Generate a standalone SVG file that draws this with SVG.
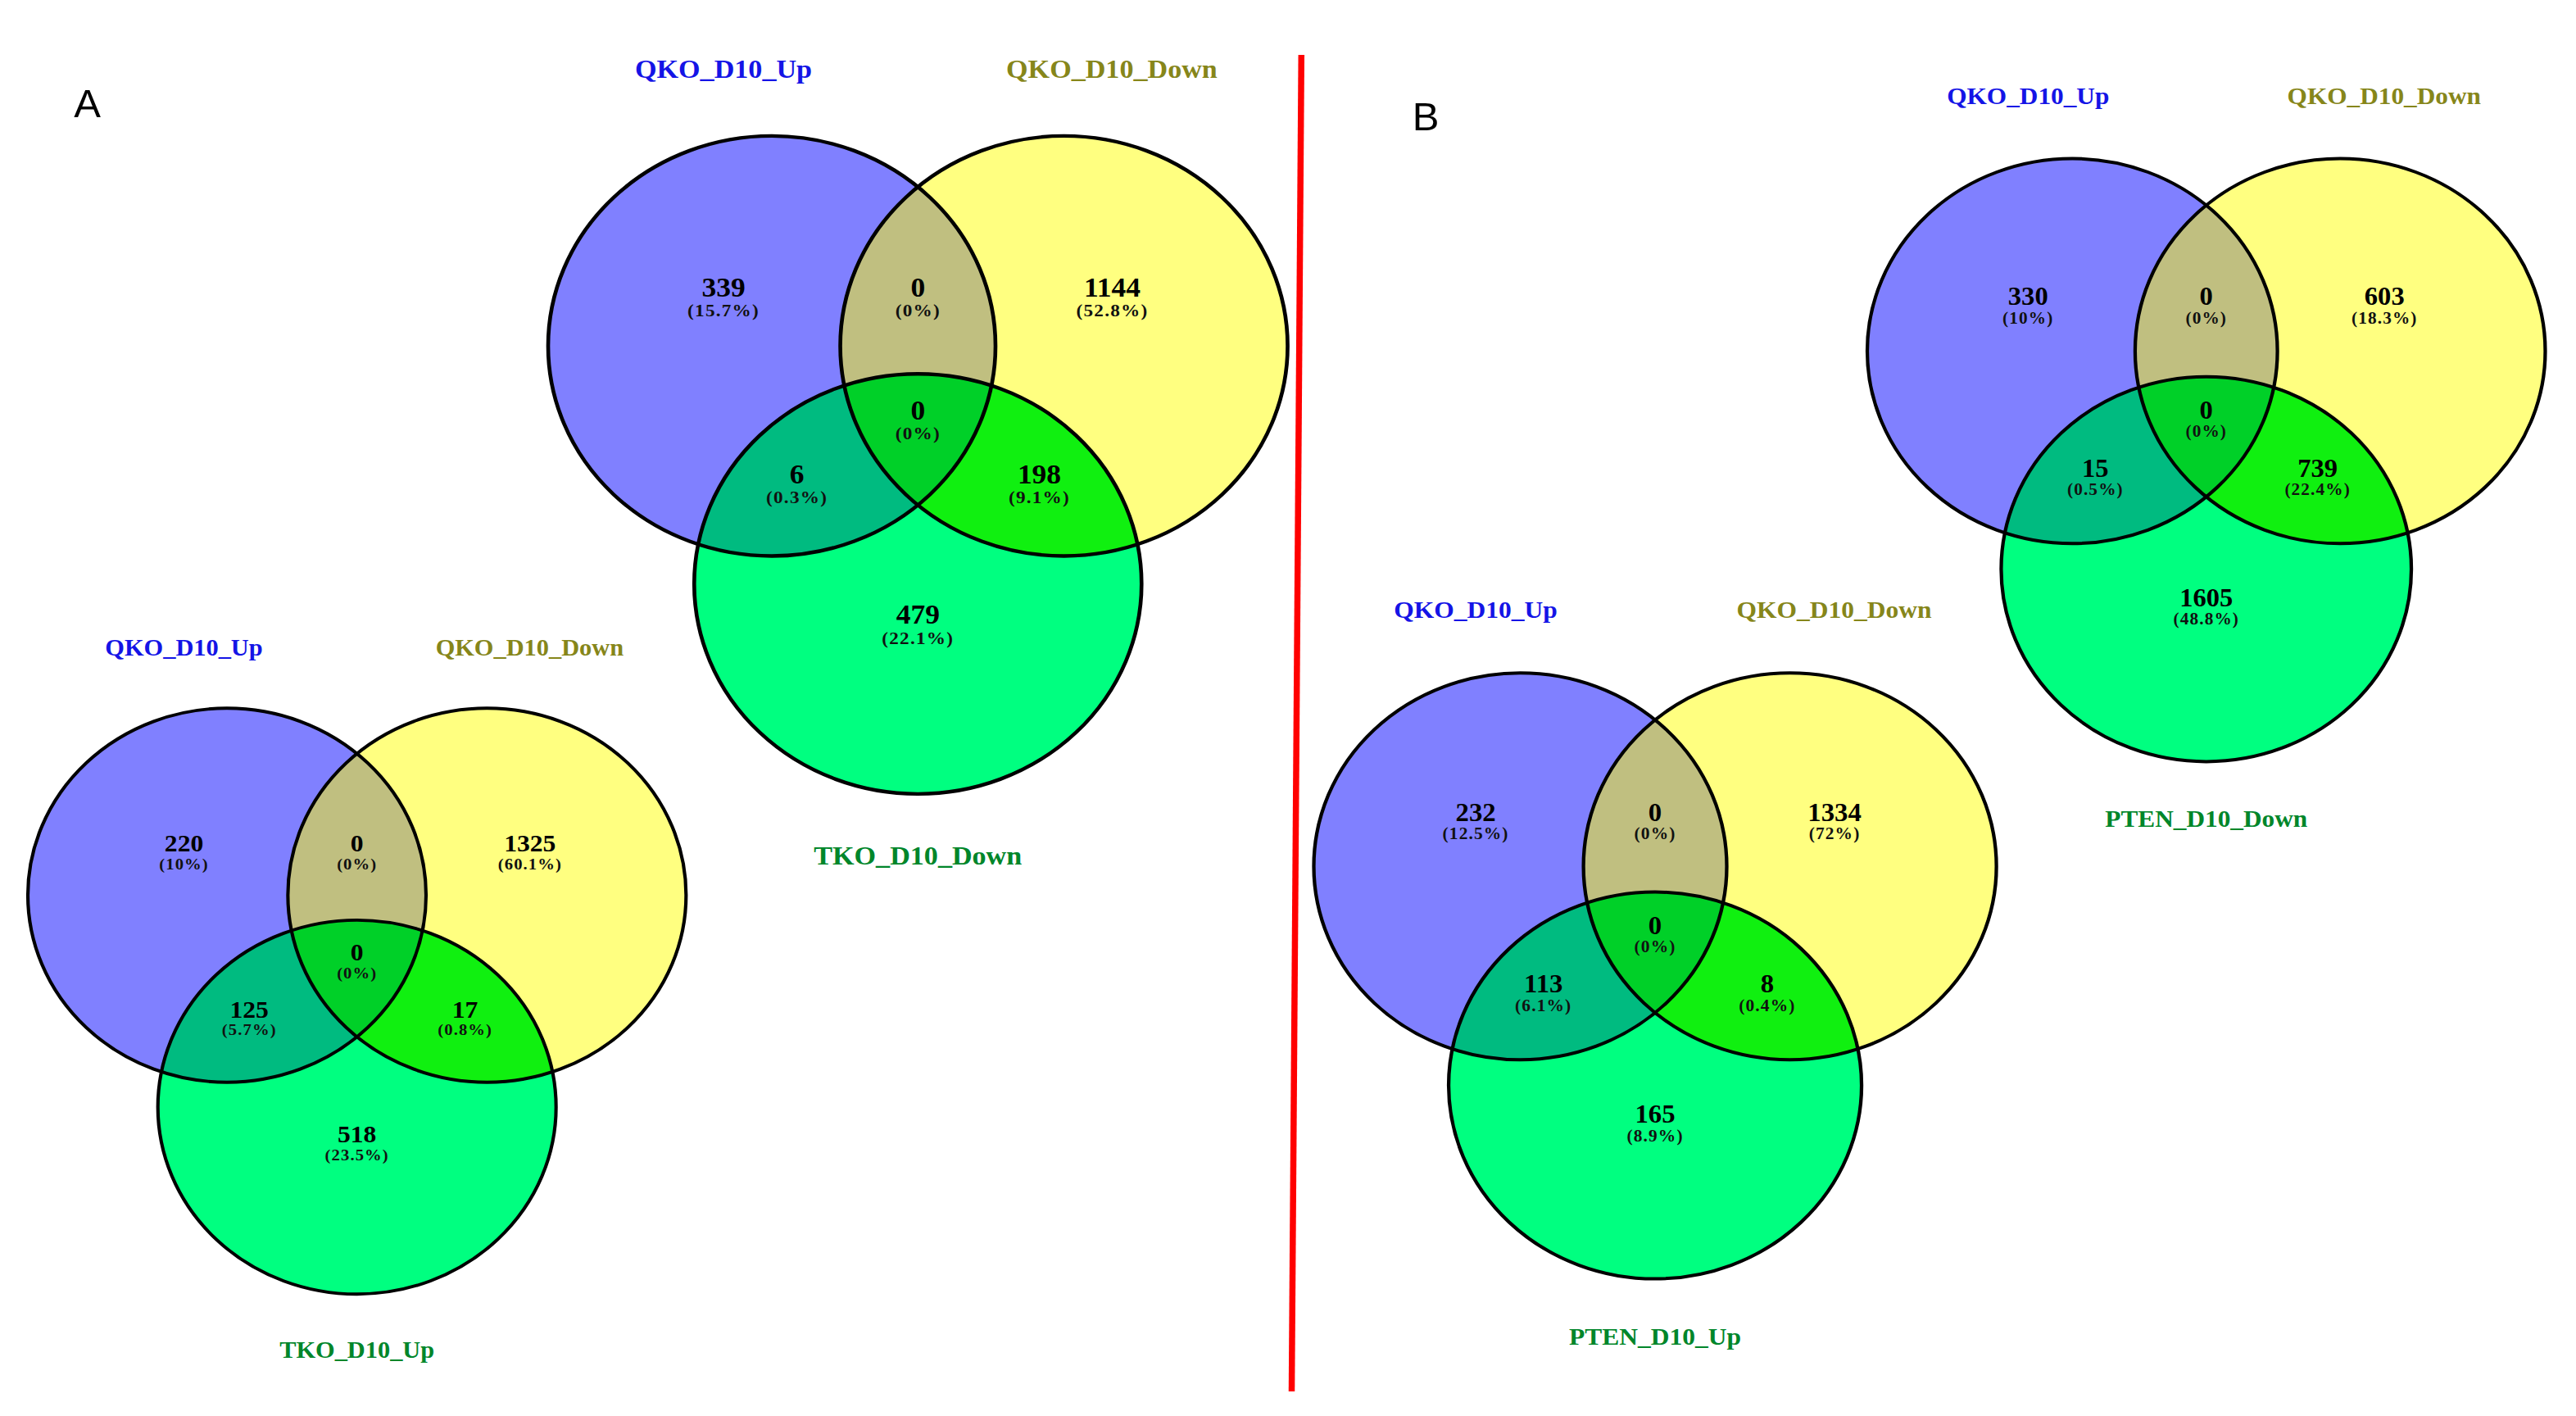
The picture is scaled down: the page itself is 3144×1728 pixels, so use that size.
<svg xmlns="http://www.w3.org/2000/svg" xmlns:xlink="http://www.w3.org/1999/xlink" width="3144" height="1728" viewBox="0 0 3144 1728">
<style>
  .fb{fill:#8080ff}
  .fy{fill:#ffff80}
  .fg{fill:#00ff80}
  .fby{fill:#c0bf80}
  .fbg{fill:#00bb80}
  .fyg{fill:#10f010}
  .fc{fill:#00d028}
  .ol{fill:none;stroke:#000;stroke-width:1.7;vector-effect:non-scaling-stroke}
  .num{font-family:"Liberation Serif","Times New Roman",serif;font-weight:bold;font-size:13px;text-anchor:middle;fill:#000}
  .pct{font-family:"Liberation Serif","Times New Roman",serif;font-weight:bold;font-size:8.5px;letter-spacing:0.45px;text-anchor:middle;fill:#111}
  .lab{font-family:"Liberation Serif","Times New Roman",serif;font-weight:bold;font-size:12.5px;text-anchor:middle}
  .lb{fill:#1414e6}
  .ly{fill:#86861a}
  .lg{fill:#00862a}
  .panel{font-family:"Liberation Sans",Arial,sans-serif;font-size:49px;text-anchor:middle;fill:#000}
</style>
<defs>
  <circle id="cB" cx="0" cy="0" r="100"/>
  <circle id="cY" cx="130.6" cy="0" r="100"/>
  <circle id="cG" cx="65.3" cy="113.3" r="100"/>
  <clipPath id="clipB"><circle cx="0" cy="0" r="100"/></clipPath>
  <clipPath id="clipY"><circle cx="130.6" cy="0" r="100"/></clipPath>
  <g id="shapes">
    <use xlink:href="#cB" class="fb"/>
    <use xlink:href="#cY" class="fy"/>
    <use xlink:href="#cG" class="fg"/>
    <use xlink:href="#cY" class="fby" clip-path="url(#clipB)"/>
    <use xlink:href="#cG" class="fbg" clip-path="url(#clipB)"/>
    <use xlink:href="#cG" class="fyg" clip-path="url(#clipY)"/>
    <g clip-path="url(#clipB)"><use xlink:href="#cG" class="fc" clip-path="url(#clipY)"/></g>
    <use xlink:href="#cB" class="ol"/>
    <use xlink:href="#cY" class="ol"/>
    <use xlink:href="#cG" class="ol"/>
  </g>
</defs>

<text class="panel" x="106.5" y="143">A</text>
<text class="panel" x="1740" y="159">B</text>

<g id="connectors">
  <line x1="1588.3" y1="67" x2="1576.5" y2="1698" stroke="#ff0000" stroke-width="7.5"/>
</g>

<!-- Panel A, top diagram -->
<g id="vennA_top" transform="translate(942,422.2) scale(2.73,2.563)">
  <use xlink:href="#shapes"/>
  <g id="A1_QKO_Up"><text class="lab lb" x="-21.6" y="-127.5">QKO_D10_Up</text></g>
  <g id="A1_QKO_Down"><text class="lab ly" x="152" y="-127.5">QKO_D10_Down</text></g>
  <g id="A1_TKO_Down"><text class="lab lg" x="65.3" y="247">TKO_D10_Down</text></g>
  <text class="num" x="-21.6" y="-23.6">339</text><text class="pct" x="-21.6" y="-14">(15.7%)</text>
  <text class="num" x="65.3" y="-23.6">0</text><text class="pct" x="65.3" y="-14">(0%)</text>
  <text class="num" x="152.2" y="-23.6">1144</text><text class="pct" x="152.2" y="-14">(52.8%)</text>
  <text class="num" x="65.3" y="35">0</text><text class="pct" x="65.3" y="44.6">(0%)</text>
  <text class="num" x="11.2" y="65.3">6</text><text class="pct" x="11.2" y="74.9">(0.3%)</text>
  <text class="num" x="119.6" y="65.3">198</text><text class="pct" x="119.6" y="74.9">(9.1%)</text>
  <text class="num" x="65.3" y="132.3">479</text><text class="pct" x="65.3" y="141.9">(22.1%)</text>
</g>

<!-- Panel A, bottom diagram -->
<g id="vennA_bottom" transform="translate(277,1092.5) scale(2.43,2.282)">
  <use xlink:href="#shapes"/>
  <g id="A2_QKO_Up"><text class="lab lb" x="-21.6" y="-128">QKO_D10_Up</text></g>
  <g id="A2_QKO_Down"><text class="lab ly" x="152" y="-128">QKO_D10_Down</text></g>
  <g id="A2_TKO_Up"><text class="lab lg" x="65.3" y="247.3">TKO_D10_Up</text></g>
  <text class="num" x="-21.6" y="-23.6">220</text><text class="pct" x="-21.6" y="-14">(10%)</text>
  <text class="num" x="65.3" y="-23.6">0</text><text class="pct" x="65.3" y="-14">(0%)</text>
  <text class="num" x="152.2" y="-23.6">1325</text><text class="pct" x="152.2" y="-14">(60.1%)</text>
  <text class="num" x="65.3" y="35">0</text><text class="pct" x="65.3" y="44.6">(0%)</text>
  <text class="num" x="11.2" y="65.3">125</text><text class="pct" x="11.2" y="74.9">(5.7%)</text>
  <text class="num" x="119.6" y="65.3">17</text><text class="pct" x="119.6" y="74.9">(0.8%)</text>
  <text class="num" x="65.3" y="132.3">518</text><text class="pct" x="65.3" y="141.9">(23.5%)</text>
</g>

<!-- Panel B, bottom diagram -->
<g id="vennB_bottom" transform="translate(1855.5,1057.2) scale(2.52,2.36)">
  <use xlink:href="#shapes"/>
  <g id="B1_QKO_Up"><text class="lab lb" x="-21.6" y="-128.3">QKO_D10_Up</text></g>
  <g id="B1_QKO_Down"><text class="lab ly" x="152" y="-128.3">QKO_D10_Down</text></g>
  <g id="B1_PTEN_Up"><text class="lab lg" x="65.3" y="247.2">PTEN_D10_Up</text></g>
  <text class="num" x="-21.6" y="-23.6">232</text><text class="pct" x="-21.6" y="-14">(12.5%)</text>
  <text class="num" x="65.3" y="-23.6">0</text><text class="pct" x="65.3" y="-14">(0%)</text>
  <text class="num" x="152.2" y="-23.6">1334</text><text class="pct" x="152.2" y="-14">(72%)</text>
  <text class="num" x="65.3" y="35">0</text><text class="pct" x="65.3" y="44.6">(0%)</text>
  <text class="num" x="11.2" y="65.3">113</text><text class="pct" x="11.2" y="74.9">(6.1%)</text>
  <text class="num" x="119.6" y="65.3">8</text><text class="pct" x="119.6" y="74.9">(0.4%)</text>
  <text class="num" x="65.3" y="132.5">165</text><text class="pct" x="65.3" y="142.1">(8.9%)</text>
</g>

<!-- Panel B, top diagram -->
<g id="vennB_top" transform="translate(2529.3,428.4) scale(2.503,2.349)">
  <use xlink:href="#shapes"/>
  <g id="B2_QKO_Up"><text class="lab lb" x="-21.6" y="-128.5">QKO_D10_Up</text></g>
  <g id="B2_QKO_Down"><text class="lab ly" x="152" y="-128.5">QKO_D10_Down</text></g>
  <g id="B2_PTEN_Down"><text class="lab lg" x="65.3" y="247.3">PTEN_D10_Down</text></g>
  <text class="num" x="-21.6" y="-23.8">330</text><text class="pct" x="-21.6" y="-14.2">(10%)</text>
  <text class="num" x="65.3" y="-23.8">0</text><text class="pct" x="65.3" y="-14.2">(0%)</text>
  <text class="num" x="152.2" y="-23.8">603</text><text class="pct" x="152.2" y="-14.2">(18.3%)</text>
  <text class="num" x="65.3" y="35">0</text><text class="pct" x="65.3" y="44.6">(0%)</text>
  <text class="num" x="11.2" y="65.3">15</text><text class="pct" x="11.2" y="74.9">(0.5%)</text>
  <text class="num" x="119.6" y="65.3">739</text><text class="pct" x="119.6" y="74.9">(22.4%)</text>
  <text class="num" x="65.3" y="132.5">1605</text><text class="pct" x="65.3" y="142.1">(48.8%)</text>
</g>
</svg>
